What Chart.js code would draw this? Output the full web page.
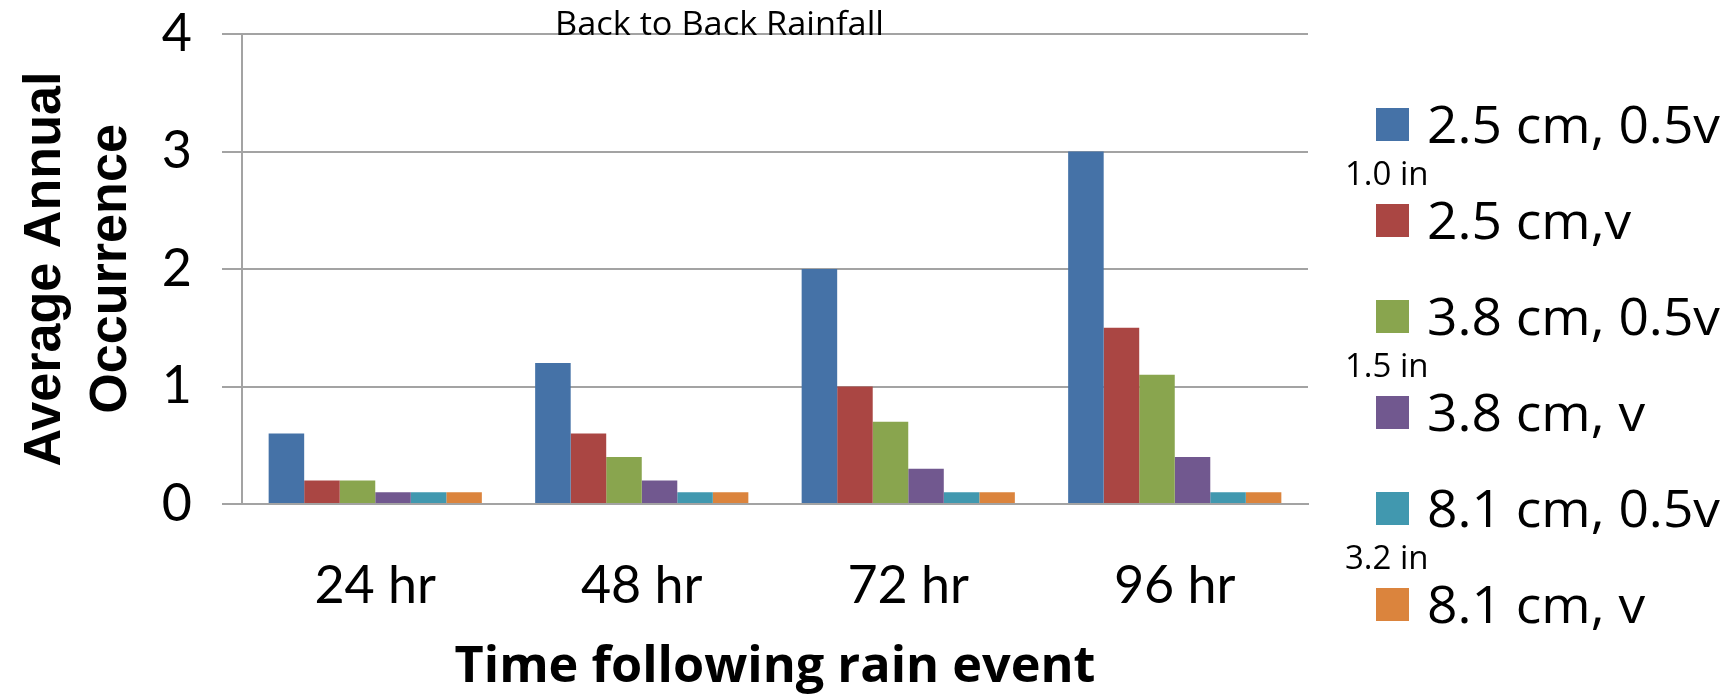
<!DOCTYPE html>
<html>
<head>
<meta charset="utf-8">
<script src="https://cdn.jsdelivr.net/npm/chart.js@4.4.1/dist/chart.umd.min.js"></script>
<style>
html,body{margin:0;padding:0;background:#fff;}
#wrap{width:1733px;height:697px;position:relative;}
</style>
</head>
<body>
<div id="wrap"><canvas id="c" width="1733" height="697"></canvas></div>
<script>
// ---- data ----
const chartTitle = 'Back to Back Rainfall';
const categories = ['24 hr', '48 hr', '72 hr', '96 hr'];
const seriesLabels = ['2.5 cm, 0.5v', '2.5 cm,v', '3.8 cm, 0.5v', '3.8 cm, v', '8.1 cm, 0.5v', '8.1 cm, v'];
const s25half = [0.6, 1.2, 2.0, 3.0];
const s25full = [0.2, 0.6, 1.0, 1.5];
const s38half = [0.2, 0.4, 0.7, 1.1];
const s38full = [0.1, 0.2, 0.3, 0.4];
const s81half = [0.1, 0.1, 0.1, 0.1];
const s81full = [0.1, 0.1, 0.1, 0.1];
const inchLabels = ['1.0 in', '1.5 in', '3.2 in'];
const yTicks = [0, 1, 2, 3, 4];
const xTitle = 'Time following rain event';
const yTitle = ['Average Annual', 'Occurrence'];

// ---- styles ----
const colors = ['#4572A7', '#AA4643', '#89A54E', '#71588F', '#4198AF', '#DB843D'];
const seriesValues = [s25half, s25full, s38half, s38full, s81half, s81full];
const gridColor = '#a3a3a3';

const measureCtx = document.createElement('canvas').getContext('2d');
function textWidth(text, font) { measureCtx.font = font; return measureCtx.measureText(text).width; }
function fitSize(text, family, weight, target) {
  return 100 * target / textWidth(text, weight + ' 100px ' + family);
}

function drawStretched(ctx, text, x, y, font, targetW, refText) {
  ctx.font = font;
  const w = ctx.measureText(refText || text).width;
  const sx = targetW / w;
  ctx.save();
  ctx.translate(x, y);
  ctx.scale(sx, 1);
  ctx.fillText(text, 0, 0);
  ctx.restore();
}

const overlay = {
  id: 'overlay',
  afterDraw(chart) {
    const ctx = chart.ctx;
    const a = chart.chartArea;
    ctx.save();
    ctx.fillStyle = '#000';
    ctx.textAlign = 'left';
    ctx.textBaseline = 'alphabetic';
    drawStretched(ctx, chartTitle, 555, 35, '32px "Open Sans"', 329);

    const lx = a.right + 68, box = 33, y0 = 124.5, dy = 96;
    chart.data.datasets.forEach((ds, i) => {
      const cy = y0 + i * dy;
      ctx.fillStyle = ds.backgroundColor;
      ctx.fillRect(lx, cy - box / 2, box, box);
      ctx.fillStyle = '#000';
      drawStretched(ctx, ds.label, lx + box + 18, cy + 18.5, '52px "Open Sans"', 293, seriesLabels[0]);
    });
    ctx.font = '33px "Open Sans"';
    inchLabels.forEach((t, k) => {
      ctx.fillText(t, a.right + 37, y0 + 2 * k * dy + 60.5);
    });
    ctx.restore();
  }
};

function build() {
  const xTitleSize = fitSize(xTitle, '"Open Sans"', 'bold', 641);
  const yTitleSize = fitSize(yTitle[0], '"Liberation Sans"', 'bold', 395);
  new Chart(document.getElementById('c'), {
    type: 'bar',
    data: {
      labels: categories,
      datasets: seriesLabels.map((lab, i) => ({
        label: lab,
        data: seriesValues[i],
        backgroundColor: colors[i],
        borderWidth: 0,
        categoryPercentage: 0.8,
        barPercentage: 1.0
      }))
    },
    plugins: [overlay],
    options: {
      responsive: false,
      animation: false,
      devicePixelRatio: 1,
      layout: { padding: { top: 34, right: 425, bottom: 0, left: 0 } },
      plugins: { legend: { display: false }, title: { display: false }, tooltip: { enabled: false } },
      scales: {
        x: {
          grid: { display: false, drawTicks: false },
          border: { display: true, color: gridColor, width: 2 },
          ticks: { font: { family: 'Lato', size: 52 }, color: '#000', padding: 51 },
          title: {
            display: true, text: xTitle, color: '#000',
            font: { family: 'Open Sans', size: xTitleSize, weight: 'bold', lineHeight: 1 },
            padding: { top: 0, bottom: 4 }
          },
          afterFit(s) { s.height = 193; s.paddingLeft = 0; s.paddingRight = 0; }
        },
        y: {
          min: 0, max: 4,
          afterBuildTicks(s) { s.ticks = yTicks.map(v => ({ value: v })); },
          ticks: { font: { family: 'Lato', size: 52 }, color: '#000', padding: 30 },
          grid: { color: gridColor, lineWidth: 2, drawTicks: true, tickLength: 20 },
          border: { display: true, color: gridColor, width: 2 },
          title: {
            display: true, text: yTitle, color: '#000',
            font: { family: 'Liberation Sans', size: yTitleSize, weight: 'bold', lineHeight: 1.28 },
            padding: { top: 12, bottom: 0 }
          },
          afterFit(s) { s.width = 242; s.paddingTop = 0; s.paddingBottom = 0; }
        }
      }
    }
  });
}

const fontsToLoad = ['32px "Open Sans"', 'bold 49px "Open Sans"', '52px Lato', 'bold 51px "Liberation Sans"'];
Promise.all(fontsToLoad.map(f => document.fonts.load(f).catch(() => null))).then(build, build);
</script>
</body>
</html>
